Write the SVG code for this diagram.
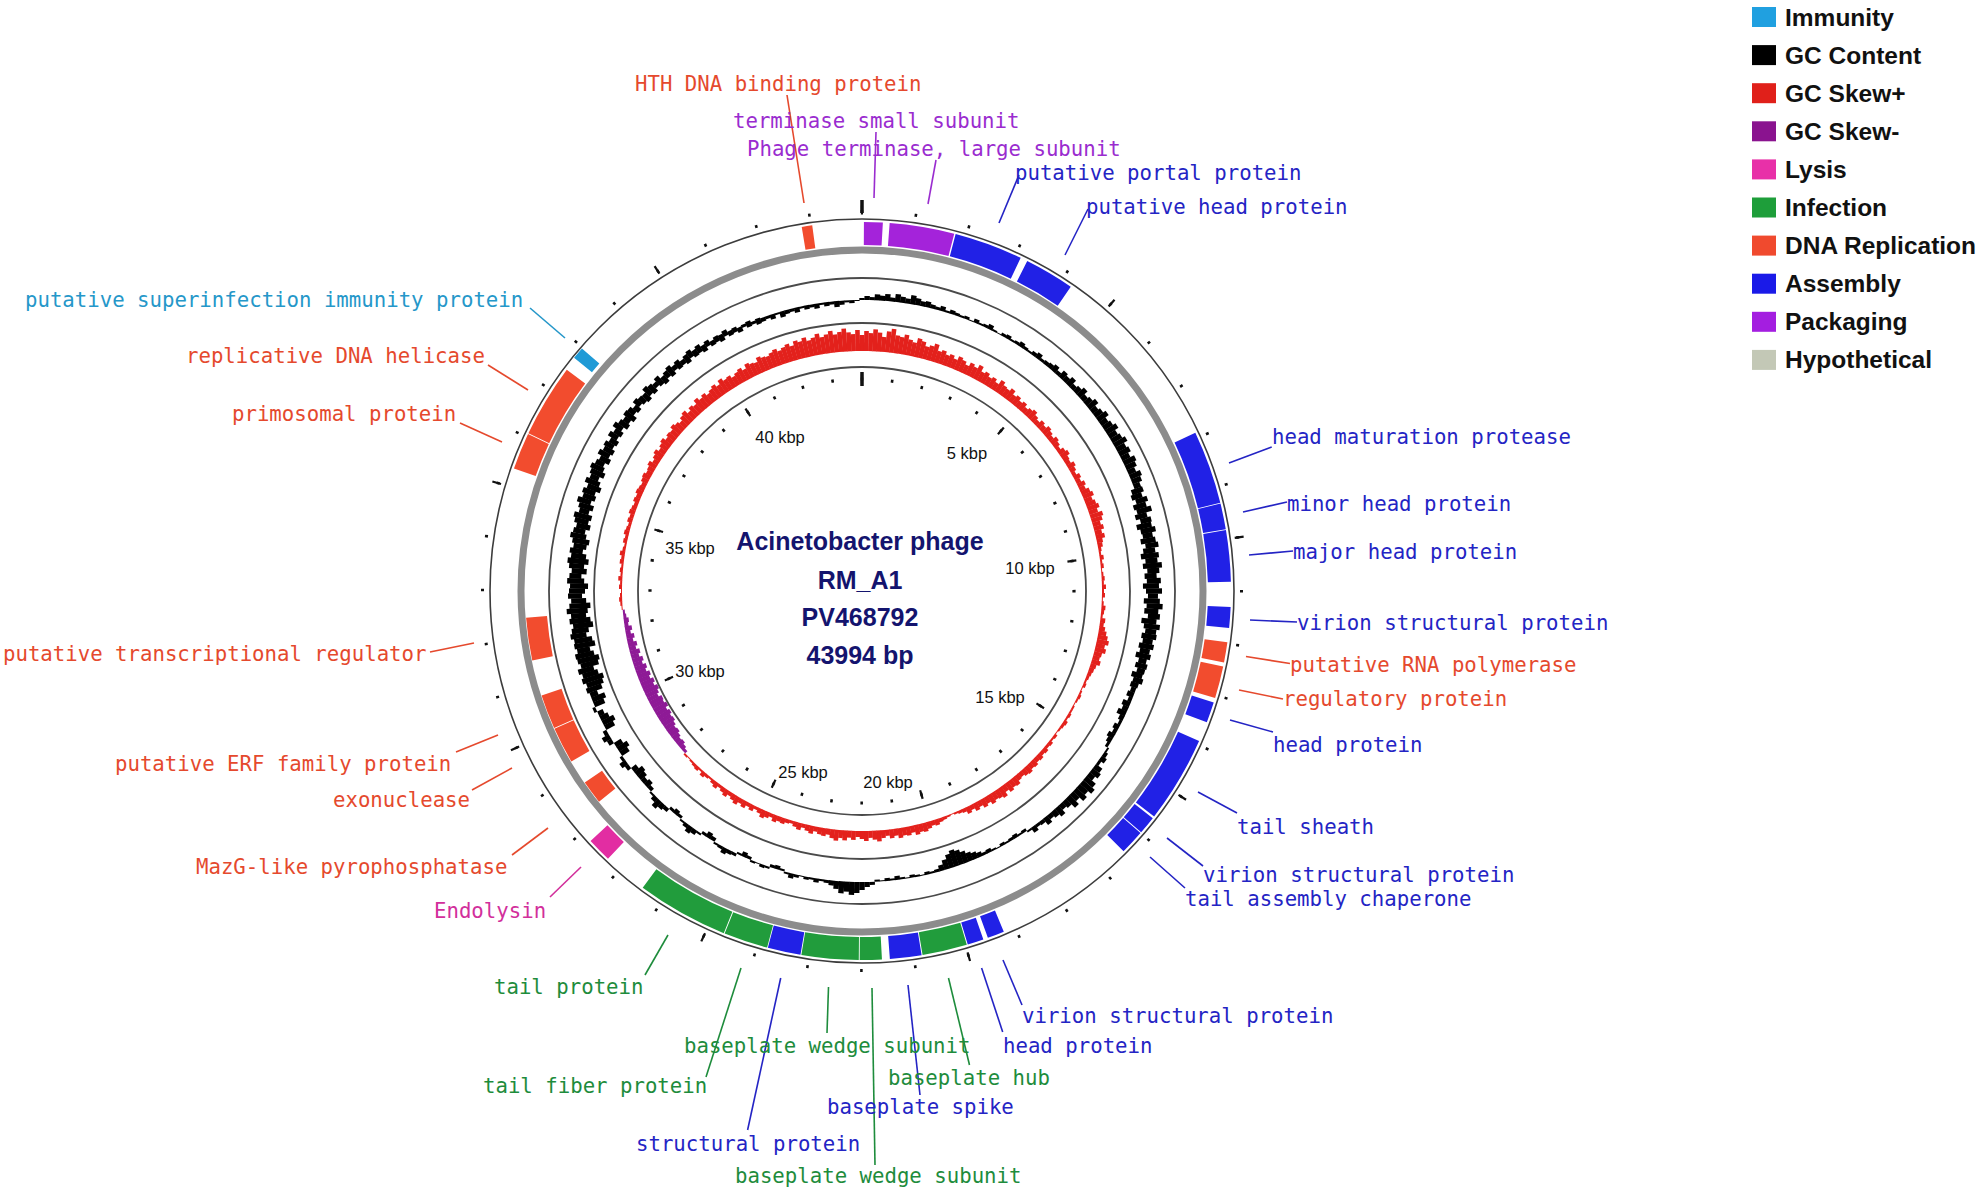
<svg xmlns="http://www.w3.org/2000/svg" width="1985" height="1190" viewBox="0 0 1985 1190">
<style>
.lbl{font-family:"DejaVu Sans Mono","Liberation Mono",monospace;font-size:20.7px}
.arc{fill:none;stroke-width:23}
.rev{stroke-width:21}
.rep .arc{stroke:#f24c2e}.rep text{fill:#e5492d}
.pack .arc{stroke:#a423da}.pack text{fill:#9a2ccf}
.asm .arc{stroke:#2121e6}.asm text{fill:#2424c4}
.inf .arc{stroke:#219c3c}.inf text{fill:#1e8c3c}
.lys .arc{stroke:#e22da2}.lys text{fill:#d22f9b}
.imm .arc{stroke:#1f9ad6}.imm text{fill:#2597c9}
.k-rep{stroke:#e5492d}.k-pack{stroke:#9a2ccf}.k-asm{stroke:#2424c4}.k-inf{stroke:#1e8c3c}.k-lys{stroke:#d22f9b}.k-imm{stroke:#2597c9}
.ring{fill:none;stroke:#4a4a4a;stroke-width:1.8}
.kb{font-family:"Liberation Sans",Arial,sans-serif;font-size:16.5px;fill:#111;text-anchor:middle}
.ttl{font-family:"Liberation Sans",Arial,sans-serif;font-size:25px;font-weight:bold;fill:#14146e;text-anchor:middle}
.lg{font-family:"Liberation Sans",Arial,sans-serif;font-size:24.5px;font-weight:bold;fill:#111}
</style>
<rect width="1985" height="1190" fill="#fff"/>

<g id="rings" transform="translate(862 591)">
<circle r="372" fill="none" stroke="#3c3c3c" stroke-width="1.6"/>
<circle r="341" fill="none" stroke="#8c8c8c" stroke-width="7"/>
<circle class="ring" r="313"/>
<circle class="ring" r="268"/>
<circle class="ring" r="224"/>
</g>

<g id="gc-content" transform="translate(862 591)" stroke="#000" stroke-width="5.4">
<path d="M0-291V-293"/><path d="M0-291V-295" transform="rotate(1)"/><path d="M0-291V-294" transform="rotate(2)"/><path d="M0-291V-297" transform="rotate(3)"/><path d="M0-291V-296" transform="rotate(4)"/><path d="M0-291V-298" transform="rotate(5)"/><path d="M0-291V-295" transform="rotate(6)"/><path d="M0-291V-299" transform="rotate(7)"/><path d="M0-291V-297" transform="rotate(8)"/><path d="M0-291V-296" transform="rotate(9)"/>
<path d="M0-291V-300" transform="rotate(10)"/><path d="M0-291V-298" transform="rotate(11)"/><path d="M0-291V-296" transform="rotate(12)"/><path d="M0-291V-297" transform="rotate(13)"/><path d="M0-291V-295" transform="rotate(14)"/><path d="M0-291V-294" transform="rotate(15)"/><path d="M0-291V-296" transform="rotate(16)"/><path d="M0-291V-293" transform="rotate(17)"/><path d="M0-291V-295" transform="rotate(18)"/><path d="M0-291V-294" transform="rotate(19)"/>
<path d="M0-291V-293" transform="rotate(20)"/><path d="M0-291V-294" transform="rotate(21)"/><path d="M0-291V-292" transform="rotate(22)"/><path d="M0-291V-295" transform="rotate(23)"/><path d="M0-291V-293" transform="rotate(24)"/><path d="M0-291V-294" transform="rotate(25)"/><path d="M0-291V-296" transform="rotate(26)"/><path d="M0-291V-293" transform="rotate(27)"/><path d="M0-291V-292" transform="rotate(28)"/><path d="M0-291V-294" transform="rotate(29)"/>
<path d="M0-291V-295" transform="rotate(30)"/><path d="M0-291V-293" transform="rotate(31)"/><path d="M0-291V-294" transform="rotate(32)"/><path d="M0-291V-296" transform="rotate(33)"/><path d="M0-291V-294" transform="rotate(34)"/><path d="M0-291V-293" transform="rotate(35)"/><path d="M0-291V-295" transform="rotate(36)"/><path d="M0-291V-297" transform="rotate(37)"/><path d="M0-291V-294" transform="rotate(38)"/><path d="M0-291V-295" transform="rotate(39)"/>
<path d="M0-291V-296" transform="rotate(40)"/><path d="M0-291V-298" transform="rotate(41)"/><path d="M0-291V-295" transform="rotate(42)"/><path d="M0-291V-299" transform="rotate(43)"/><path d="M0-291V-297" transform="rotate(44)"/><path d="M0-291V-300" transform="rotate(45)"/><path d="M0-291V-296" transform="rotate(46)"/><path d="M0-291V-298" transform="rotate(47)"/><path d="M0-291V-301" transform="rotate(48)"/><path d="M0-291V-297" transform="rotate(49)"/>
<path d="M0-291V-299" transform="rotate(50)"/><path d="M0-291V-302" transform="rotate(51)"/><path d="M0-291V-298" transform="rotate(52)"/><path d="M0-291V-300" transform="rotate(53)"/><path d="M0-291V-303" transform="rotate(54)"/><path d="M0-291V-299" transform="rotate(55)"/><path d="M0-291V-301" transform="rotate(56)"/><path d="M0-291V-304" transform="rotate(57)"/><path d="M0-291V-300" transform="rotate(58)"/><path d="M0-291V-302" transform="rotate(59)"/>
<path d="M0-291V-305" transform="rotate(60)"/><path d="M0-291V-301" transform="rotate(61)"/><path d="M0-291V-303" transform="rotate(62)"/><path d="M0-291V-300" transform="rotate(63)"/><path d="M0-291V-304" transform="rotate(64)"/><path d="M0-291V-302" transform="rotate(65)"/><path d="M0-291V-299" transform="rotate(66)"/><path d="M0-291V-303" transform="rotate(67)"/><path d="M0-291V-301" transform="rotate(68)"/><path d="M0-291V-298" transform="rotate(69)"/>
<path d="M0-287V-299" transform="rotate(70)"/><path d="M0-285V-296" transform="rotate(71)"/><path d="M0-288V-300" transform="rotate(72)"/><path d="M0-284V-297" transform="rotate(73)"/><path d="M0-286V-301" transform="rotate(74)"/><path d="M0-283V-295" transform="rotate(75)"/><path d="M0-287V-298" transform="rotate(76)"/><path d="M0-282V-297" transform="rotate(77)"/><path d="M0-285V-300" transform="rotate(78)"/><path d="M0-286V-296" transform="rotate(79)"/>
<path d="M0-283V-298" transform="rotate(80)"/><path d="M0-287V-300" transform="rotate(81)"/><path d="M0-284V-296" transform="rotate(82)"/><path d="M0-281V-299" transform="rotate(83)"/><path d="M0-285V-297" transform="rotate(84)"/><path d="M0-282V-301" transform="rotate(85)"/><path d="M0-286V-298" transform="rotate(86)"/><path d="M0-283V-295" transform="rotate(87)"/><path d="M0-285V-299" transform="rotate(88)"/><path d="M0-281V-297" transform="rotate(89)"/>
<path d="M0-284V-300" transform="rotate(90)"/><path d="M0-286V-296" transform="rotate(91)"/><path d="M0-282V-298" transform="rotate(92)"/><path d="M0-285V-301" transform="rotate(93)"/><path d="M0-283V-297" transform="rotate(94)"/><path d="M0-287V-299" transform="rotate(95)"/><path d="M0-281V-296" transform="rotate(96)"/><path d="M0-284V-300" transform="rotate(97)"/><path d="M0-286V-297" transform="rotate(98)"/><path d="M0-283V-298" transform="rotate(99)"/>
<path d="M0-285V-295" transform="rotate(100)"/><path d="M0-282V-297" transform="rotate(101)"/><path d="M0-284V-294" transform="rotate(102)"/><path d="M0-281V-296" transform="rotate(103)"/><path d="M0-285V-293" transform="rotate(104)"/><path d="M0-283V-295" transform="rotate(105)"/><path d="M0-286V-294" transform="rotate(106)"/><path d="M0-282V-293" transform="rotate(107)"/><path d="M0-285V-295" transform="rotate(108)"/><path d="M0-284V-292" transform="rotate(109)"/>
<path d="M0-291V-286" transform="rotate(110)"/><path d="M0-291V-284" transform="rotate(111)"/><path d="M0-291V-287" transform="rotate(112)"/><path d="M0-291V-283" transform="rotate(113)"/><path d="M0-291V-285" transform="rotate(114)"/><path d="M0-291V-282" transform="rotate(115)"/><path d="M0-291V-286" transform="rotate(116)"/><path d="M0-291V-288" transform="rotate(117)"/><path d="M0-291V-285" transform="rotate(118)"/><path d="M0-291V-287" transform="rotate(119)"/>
<path d="M0-291V-284" transform="rotate(120)"/><path d="M0-291V-286" transform="rotate(121)"/><path d="M0-291V-288" transform="rotate(122)"/><path d="M0-291V-293" transform="rotate(123)"/><path d="M0-291V-295" transform="rotate(124)"/><path d="M0-291V-297" transform="rotate(125)"/><path d="M0-291V-294" transform="rotate(126)"/><path d="M0-291V-299" transform="rotate(127)"/><path d="M0-291V-301" transform="rotate(128)"/><path d="M0-291V-298" transform="rotate(129)"/>
<path d="M0-291V-303" transform="rotate(130)"/><path d="M0-291V-306" transform="rotate(131)"/><path d="M0-291V-302" transform="rotate(132)"/><path d="M0-291V-305" transform="rotate(133)"/><path d="M0-291V-300" transform="rotate(134)"/><path d="M0-291V-304" transform="rotate(135)"/><path d="M0-291V-299" transform="rotate(136)"/><path d="M0-291V-297" transform="rotate(137)"/><path d="M0-291V-301" transform="rotate(138)"/><path d="M0-291V-298" transform="rotate(139)"/>
<path d="M0-291V-296" transform="rotate(140)"/><path d="M0-291V-299" transform="rotate(141)"/><path d="M0-291V-295" transform="rotate(142)"/><path d="M0-291V-294" transform="rotate(143)"/><path d="M0-291V-297" transform="rotate(144)"/><path d="M0-291V-293" transform="rotate(145)"/><path d="M0-291V-288" transform="rotate(146)"/><path d="M0-291V-289" transform="rotate(147)"/><path d="M0-291V-287" transform="rotate(148)"/><path d="M0-291V-288" transform="rotate(149)"/>
<path d="M0-291V-289" transform="rotate(150)"/><path d="M0-291V-288" transform="rotate(151)"/><path d="M0-291V-290" transform="rotate(152)"/><path d="M0-291V-289" transform="rotate(153)"/><path d="M0-291V-287" transform="rotate(154)"/><path d="M0-291V-288" transform="rotate(155)"/><path d="M0-291V-286" transform="rotate(156)"/><path d="M0-291V-284" transform="rotate(157)"/><path d="M0-291V-282" transform="rotate(158)"/><path d="M0-291V-279" transform="rotate(159)"/>
<path d="M0-291V-276" transform="rotate(160)"/><path d="M0-291V-274" transform="rotate(161)"/><path d="M0-291V-277" transform="rotate(162)"/><path d="M0-291V-281" transform="rotate(163)"/><path d="M0-291V-285" transform="rotate(164)"/><path d="M0-291V-288" transform="rotate(165)"/><path d="M0-291V-289" transform="rotate(166)"/><path d="M0-291V-288" transform="rotate(167)"/><path d="M0-291V-290" transform="rotate(168)"/><path d="M0-291V-289" transform="rotate(169)"/>
<path d="M0-291V-288" transform="rotate(170)"/><path d="M0-291V-290" transform="rotate(171)"/><path d="M0-291V-289" transform="rotate(172)"/><path d="M0-291V-287" transform="rotate(173)"/><path d="M0-291V-289" transform="rotate(174)"/><path d="M0-291V-288" transform="rotate(175)"/><path d="M0-291V-290" transform="rotate(176)"/><path d="M0-291V-289" transform="rotate(177)"/><path d="M0-291V-294" transform="rotate(178)"/><path d="M0-291V-296" transform="rotate(179)"/>
<path d="M0-291V-299" transform="rotate(180)"/><path d="M0-291V-302" transform="rotate(181)"/><path d="M0-291V-304" transform="rotate(182)"/><path d="M0-291V-301" transform="rotate(183)"/><path d="M0-291V-303" transform="rotate(184)"/><path d="M0-291V-299" transform="rotate(185)"/><path d="M0-291V-296" transform="rotate(186)"/><path d="M0-291V-294" transform="rotate(187)"/><path d="M0-291V-293" transform="rotate(188)"/><path d="M0-291V-295" transform="rotate(189)"/>
<path d="M0-291V-293" transform="rotate(190)"/><path d="M0-291V-294" transform="rotate(191)"/><path d="M0-291V-292" transform="rotate(192)"/><path d="M0-291V-294" transform="rotate(193)"/><path d="M0-291V-296" transform="rotate(194)"/><path d="M0-291V-293" transform="rotate(195)"/><path d="M0-291V-289" transform="rotate(196)"/><path d="M0-291V-287" transform="rotate(197)"/><path d="M0-291V-288" transform="rotate(198)"/><path d="M0-291V-293" transform="rotate(199)"/>
<path d="M0-291V-294" transform="rotate(200)"/><path d="M0-291V-292" transform="rotate(201)"/><path d="M0-291V-293" transform="rotate(202)"/><path d="M0-291V-288" transform="rotate(203)"/><path d="M0-291V-286" transform="rotate(204)"/><path d="M0-291V-289" transform="rotate(205)"/><path d="M0-291V-294" transform="rotate(206)"/><path d="M0-291V-295" transform="rotate(207)"/><path d="M0-291V-297" transform="rotate(208)"/><path d="M0-291V-294" transform="rotate(209)"/>
<path d="M0-291V-293" transform="rotate(210)"/><path d="M0-291V-287" transform="rotate(211)"/><path d="M0-291V-285" transform="rotate(212)"/><path d="M0-291V-288" transform="rotate(213)"/><path d="M0-291V-293" transform="rotate(214)"/><path d="M0-291V-296" transform="rotate(215)"/><path d="M0-291V-298" transform="rotate(216)"/><path d="M0-291V-295" transform="rotate(217)"/><path d="M0-291V-293" transform="rotate(218)"/><path d="M0-291V-288" transform="rotate(219)"/>
<path d="M0-291V-286" transform="rotate(220)"/><path d="M0-291V-288" transform="rotate(221)"/><path d="M0-291V-295" transform="rotate(222)"/><path d="M0-291V-297" transform="rotate(223)"/><path d="M0-291V-300" transform="rotate(224)"/><path d="M0-291V-296" transform="rotate(225)"/><path d="M0-291V-293" transform="rotate(226)"/><path d="M0-291V-287" transform="rotate(227)"/><path d="M0-291V-284" transform="rotate(228)"/><path d="M0-291V-286" transform="rotate(229)"/>
<path d="M0-291V-283" transform="rotate(230)"/><path d="M0-291V-281" transform="rotate(231)"/><path d="M0-291V-285" transform="rotate(232)"/><path d="M0-291V-295" transform="rotate(233)"/><path d="M0-291V-298" transform="rotate(234)"/><path d="M0-291V-294" transform="rotate(235)"/><path d="M0-291V-282" transform="rotate(236)"/><path d="M0-291V-279" transform="rotate(237)"/><path d="M0-291V-283" transform="rotate(238)"/><path d="M0-291V-296" transform="rotate(239)"/>
<path d="M0-291V-299" transform="rotate(240)"/><path d="M0-291V-295" transform="rotate(241)"/><path d="M0-291V-281" transform="rotate(242)"/><path d="M0-291V-278" transform="rotate(243)"/><path d="M0-291V-282" transform="rotate(244)"/><path d="M0-291V-285" transform="rotate(245)"/><path d="M0-291V-294" transform="rotate(246)"/><path d="M0-291V-280" transform="rotate(247)"/><path d="M0-291V-277" transform="rotate(248)"/><path d="M0-291V-283" transform="rotate(249)"/>
<path d="M0-277V-293" transform="rotate(250)"/><path d="M0-274V-291" transform="rotate(251)"/><path d="M0-272V-294" transform="rotate(252)"/><path d="M0-276V-292" transform="rotate(253)"/><path d="M0-279V-295" transform="rotate(254)"/><path d="M0-273V-291" transform="rotate(255)"/><path d="M0-271V-293" transform="rotate(256)"/><path d="M0-275V-294" transform="rotate(257)"/><path d="M0-278V-291" transform="rotate(258)"/><path d="M0-272V-293" transform="rotate(259)"/>
<path d="M0-274V-292" transform="rotate(260)"/><path d="M0-279V-295" transform="rotate(261)"/><path d="M0-276V-293" transform="rotate(262)"/><path d="M0-271V-291" transform="rotate(263)"/><path d="M0-273V-294" transform="rotate(264)"/><path d="M0-277V-292" transform="rotate(265)"/><path d="M0-275V-296" transform="rotate(266)"/><path d="M0-272V-293" transform="rotate(267)"/><path d="M0-276V-291" transform="rotate(268)"/><path d="M0-280V-294" transform="rotate(269)"/>
<path d="M0-277V-293" transform="rotate(270)"/><path d="M0-274V-292" transform="rotate(271)"/><path d="M0-278V-295" transform="rotate(272)"/><path d="M0-281V-293" transform="rotate(273)"/><path d="M0-276V-291" transform="rotate(274)"/><path d="M0-279V-294" transform="rotate(275)"/><path d="M0-275V-296" transform="rotate(276)"/><path d="M0-278V-293" transform="rotate(277)"/><path d="M0-282V-295" transform="rotate(278)"/><path d="M0-279V-292" transform="rotate(279)"/>
<path d="M0-277V-294" transform="rotate(280)"/><path d="M0-281V-297" transform="rotate(281)"/><path d="M0-283V-295" transform="rotate(282)"/><path d="M0-279V-293" transform="rotate(283)"/><path d="M0-282V-296" transform="rotate(284)"/><path d="M0-280V-298" transform="rotate(285)"/><path d="M0-284V-294" transform="rotate(286)"/><path d="M0-281V-296" transform="rotate(287)"/><path d="M0-285V-299" transform="rotate(288)"/><path d="M0-282V-295" transform="rotate(289)"/>
<path d="M0-284V-297" transform="rotate(290)"/><path d="M0-280V-294" transform="rotate(291)"/><path d="M0-283V-298" transform="rotate(292)"/><path d="M0-286V-295" transform="rotate(293)"/><path d="M0-282V-297" transform="rotate(294)"/><path d="M0-285V-299" transform="rotate(295)"/><path d="M0-287V-296" transform="rotate(296)"/><path d="M0-283V-294" transform="rotate(297)"/><path d="M0-286V-298" transform="rotate(298)"/><path d="M0-284V-295" transform="rotate(299)"/>
<path d="M0-287V-297" transform="rotate(300)"/><path d="M0-285V-294" transform="rotate(301)"/><path d="M0-288V-298" transform="rotate(302)"/><path d="M0-286V-295" transform="rotate(303)"/><path d="M0-289V-299" transform="rotate(304)"/><path d="M0-285V-296" transform="rotate(305)"/><path d="M0-287V-294" transform="rotate(306)"/><path d="M0-284V-297" transform="rotate(307)"/><path d="M0-288V-296" transform="rotate(308)"/><path d="M0-286V-293" transform="rotate(309)"/>
<path d="M0-289V-297" transform="rotate(310)"/><path d="M0-287V-295" transform="rotate(311)"/><path d="M0-285V-294" transform="rotate(312)"/><path d="M0-288V-298" transform="rotate(313)"/><path d="M0-286V-296" transform="rotate(314)"/><path d="M0-289V-294" transform="rotate(315)"/><path d="M0-287V-297" transform="rotate(316)"/><path d="M0-285V-293" transform="rotate(317)"/><path d="M0-288V-295" transform="rotate(318)"/><path d="M0-286V-297" transform="rotate(319)"/>
<path d="M0-289V-294" transform="rotate(320)"/><path d="M0-287V-296" transform="rotate(321)"/><path d="M0-288V-293" transform="rotate(322)"/><path d="M0-286V-295" transform="rotate(323)"/><path d="M0-289V-297" transform="rotate(324)"/><path d="M0-287V-294" transform="rotate(325)"/><path d="M0-288V-296" transform="rotate(326)"/><path d="M0-286V-293" transform="rotate(327)"/><path d="M0-289V-295" transform="rotate(328)"/><path d="M0-287V-292" transform="rotate(329)"/>
<path d="M0-288V-294" transform="rotate(330)"/><path d="M0-286V-293" transform="rotate(331)"/><path d="M0-289V-295" transform="rotate(332)"/><path d="M0-287V-292" transform="rotate(333)"/><path d="M0-288V-293" transform="rotate(334)"/><path d="M0-286V-291" transform="rotate(335)"/><path d="M0-289V-292" transform="rotate(336)"/><path d="M0-287V-293" transform="rotate(337)"/><path d="M0-288V-291" transform="rotate(338)"/><path d="M0-286V-292" transform="rotate(339)"/>
<path d="M0-291V-287" transform="rotate(340)"/><path d="M0-291V-288" transform="rotate(341)"/><path d="M0-291V-286" transform="rotate(342)"/><path d="M0-291V-289" transform="rotate(343)"/><path d="M0-291V-285" transform="rotate(344)"/><path d="M0-291V-287" transform="rotate(345)"/><path d="M0-291V-288" transform="rotate(346)"/><path d="M0-291V-286" transform="rotate(347)"/><path d="M0-291V-289" transform="rotate(348)"/><path d="M0-291V-287" transform="rotate(349)"/>
<path d="M0-291V-288" transform="rotate(350)"/><path d="M0-291V-286" transform="rotate(351)"/><path d="M0-291V-289" transform="rotate(352)"/><path d="M0-291V-287" transform="rotate(353)"/><path d="M0-291V-288" transform="rotate(354)"/><path d="M0-291V-285" transform="rotate(355)"/><path d="M0-291V-287" transform="rotate(356)"/><path d="M0-291V-289" transform="rotate(357)"/><path d="M0-291V-288" transform="rotate(358)"/><path d="M0-291V-290" transform="rotate(359)"/>
</g>

<g id="gc-skew" transform="translate(862 591)" stroke-width="4.6">
<g id="skew-plus" stroke="#e3211c">
<path d="M0-240V-256"/><path d="M0-240V-260" transform="rotate(1)"/><path d="M0-240V-258" transform="rotate(2)"/><path d="M0-240V-262" transform="rotate(3)"/><path d="M0-240V-259" transform="rotate(4)"/><path d="M0-240V-255" transform="rotate(5)"/><path d="M0-240V-261" transform="rotate(6)"/><path d="M0-240V-264" transform="rotate(7)"/><path d="M0-240V-258" transform="rotate(8)"/><path d="M0-240V-257" transform="rotate(9)"/>
<path d="M0-240V-260" transform="rotate(10)"/><path d="M0-240V-256" transform="rotate(11)"/><path d="M0-240V-254" transform="rotate(12)"/><path d="M0-240V-259" transform="rotate(13)"/><path d="M0-240V-257" transform="rotate(14)"/><path d="M0-240V-253" transform="rotate(15)"/><path d="M0-240V-255" transform="rotate(16)"/><path d="M0-240V-258" transform="rotate(17)"/><path d="M0-240V-252" transform="rotate(18)"/><path d="M0-240V-254" transform="rotate(19)"/>
<path d="M0-240V-251" transform="rotate(20)"/><path d="M0-240V-253" transform="rotate(21)"/><path d="M0-240V-250" transform="rotate(22)"/><path d="M0-240V-254" transform="rotate(23)"/><path d="M0-240V-252" transform="rotate(24)"/><path d="M0-240V-249" transform="rotate(25)"/><path d="M0-240V-253" transform="rotate(26)"/><path d="M0-240V-251" transform="rotate(27)"/><path d="M0-240V-255" transform="rotate(28)"/><path d="M0-240V-250" transform="rotate(29)"/>
<path d="M0-240V-252" transform="rotate(30)"/><path d="M0-240V-249" transform="rotate(31)"/><path d="M0-240V-251" transform="rotate(32)"/><path d="M0-240V-248" transform="rotate(33)"/><path d="M0-240V-253" transform="rotate(34)"/><path d="M0-240V-250" transform="rotate(35)"/><path d="M0-240V-249" transform="rotate(36)"/><path d="M0-240V-252" transform="rotate(37)"/><path d="M0-240V-248" transform="rotate(38)"/><path d="M0-240V-250" transform="rotate(39)"/>
<path d="M0-240V-247" transform="rotate(40)"/><path d="M0-240V-249" transform="rotate(41)"/><path d="M0-240V-246" transform="rotate(42)"/><path d="M0-240V-248" transform="rotate(43)"/><path d="M0-240V-250" transform="rotate(44)"/><path d="M0-240V-247" transform="rotate(45)"/><path d="M0-240V-245" transform="rotate(46)"/><path d="M0-240V-248" transform="rotate(47)"/><path d="M0-240V-246" transform="rotate(48)"/><path d="M0-240V-249" transform="rotate(49)"/>
<path d="M0-240V-247" transform="rotate(50)"/><path d="M0-240V-245" transform="rotate(51)"/><path d="M0-240V-248" transform="rotate(52)"/><path d="M0-240V-246" transform="rotate(53)"/><path d="M0-240V-244" transform="rotate(54)"/><path d="M0-240V-247" transform="rotate(55)"/><path d="M0-240V-249" transform="rotate(56)"/><path d="M0-240V-246" transform="rotate(57)"/><path d="M0-240V-245" transform="rotate(58)"/><path d="M0-240V-248" transform="rotate(59)"/>
<path d="M0-240V-246" transform="rotate(60)"/><path d="M0-240V-244" transform="rotate(61)"/><path d="M0-240V-247" transform="rotate(62)"/><path d="M0-240V-245" transform="rotate(63)"/><path d="M0-240V-248" transform="rotate(64)"/><path d="M0-240V-246" transform="rotate(65)"/><path d="M0-240V-249" transform="rotate(66)"/><path d="M0-240V-251" transform="rotate(67)"/><path d="M0-240V-248" transform="rotate(68)"/><path d="M0-240V-250" transform="rotate(69)"/>
<path d="M0-240V-252" transform="rotate(70)"/><path d="M0-240V-249" transform="rotate(71)"/><path d="M0-240V-253" transform="rotate(72)"/><path d="M0-240V-251" transform="rotate(73)"/><path d="M0-240V-248" transform="rotate(74)"/><path d="M0-240V-250" transform="rotate(75)"/><path d="M0-240V-247" transform="rotate(76)"/><path d="M0-240V-249" transform="rotate(77)"/><path d="M0-240V-246" transform="rotate(78)"/><path d="M0-240V-245" transform="rotate(79)"/>
<path d="M0-240V-243" transform="rotate(80)"/><path d="M0-240V-242" transform="rotate(81)"/><path d="M0-240V-244" transform="rotate(82)"/><path d="M0-240V-242" transform="rotate(83)"/><path d="M0-240V-243" transform="rotate(84)"/><path d="M0-240V-241" transform="rotate(85)"/><path d="M0-240V-242" transform="rotate(86)"/><path d="M0-240V-243" transform="rotate(87)"/><path d="M0-240V-242" transform="rotate(88)"/><path d="M0-240V-244" transform="rotate(89)"/>
<path d="M0-240V-242" transform="rotate(90)"/><path d="M0-240V-243" transform="rotate(91)"/><path d="M0-240V-241" transform="rotate(92)"/><path d="M0-240V-242" transform="rotate(93)"/><path d="M0-240V-244" transform="rotate(94)"/><path d="M0-240V-243" transform="rotate(95)"/><path d="M0-240V-242" transform="rotate(96)"/><path d="M0-240V-245" transform="rotate(97)"/><path d="M0-240V-244" transform="rotate(98)"/><path d="M0-240V-246" transform="rotate(99)"/>
<path d="M0-240V-248" transform="rotate(100)"/><path d="M0-240V-250" transform="rotate(101)"/><path d="M0-240V-252" transform="rotate(102)"/><path d="M0-240V-249" transform="rotate(103)"/><path d="M0-240V-251" transform="rotate(104)"/><path d="M0-240V-248" transform="rotate(105)"/><path d="M0-240V-247" transform="rotate(106)"/><path d="M0-240V-249" transform="rotate(107)"/><path d="M0-240V-246" transform="rotate(108)"/><path d="M0-240V-245" transform="rotate(109)"/>
<path d="M0-240V-244" transform="rotate(110)"/><path d="M0-240V-243" transform="rotate(111)"/><path d="M0-240V-242" transform="rotate(112)"/><path d="M0-240V-243" transform="rotate(113)"/><path d="M0-240V-241" transform="rotate(114)"/><path d="M0-240V-242" transform="rotate(115)"/><path d="M0-240V-243" transform="rotate(116)"/><path d="M0-240V-242" transform="rotate(117)"/><path d="M0-240V-241" transform="rotate(118)"/><path d="M0-240V-242" transform="rotate(119)"/>
<path d="M0-240V-242" transform="rotate(120)"/><path d="M0-240V-243" transform="rotate(121)"/><path d="M0-240V-242" transform="rotate(122)"/><path d="M0-240V-244" transform="rotate(123)"/><path d="M0-240V-243" transform="rotate(124)"/><path d="M0-240V-242" transform="rotate(125)"/><path d="M0-240V-241" transform="rotate(126)"/><path d="M0-240V-243" transform="rotate(127)"/><path d="M0-240V-242" transform="rotate(128)"/><path d="M0-240V-244" transform="rotate(129)"/>
<path d="M0-240V-243" transform="rotate(130)"/><path d="M0-240V-245" transform="rotate(131)"/><path d="M0-240V-244" transform="rotate(132)"/><path d="M0-240V-246" transform="rotate(133)"/><path d="M0-240V-245" transform="rotate(134)"/><path d="M0-240V-247" transform="rotate(135)"/><path d="M0-240V-246" transform="rotate(136)"/><path d="M0-240V-248" transform="rotate(137)"/><path d="M0-240V-247" transform="rotate(138)"/><path d="M0-240V-245" transform="rotate(139)"/>
<path d="M0-240V-246" transform="rotate(140)"/><path d="M0-240V-249" transform="rotate(141)"/><path d="M0-240V-248" transform="rotate(142)"/><path d="M0-240V-250" transform="rotate(143)"/><path d="M0-240V-247" transform="rotate(144)"/><path d="M0-240V-251" transform="rotate(145)"/><path d="M0-240V-249" transform="rotate(146)"/><path d="M0-240V-248" transform="rotate(147)"/><path d="M0-240V-250" transform="rotate(148)"/><path d="M0-240V-247" transform="rotate(149)"/>
<path d="M0-240V-249" transform="rotate(150)"/><path d="M0-240V-246" transform="rotate(151)"/><path d="M0-240V-248" transform="rotate(152)"/><path d="M0-240V-245" transform="rotate(153)"/><path d="M0-240V-247" transform="rotate(154)"/><path d="M0-240V-244" transform="rotate(155)"/><path d="M0-240V-243" transform="rotate(156)"/><path d="M0-240V-242" transform="rotate(157)"/><path d="M0-240V-241" transform="rotate(158)"/><path d="M0-240V-242" transform="rotate(159)"/>
<path d="M0-240V-243" transform="rotate(160)"/><path d="M0-240V-244" transform="rotate(161)"/><path d="M0-240V-246" transform="rotate(162)"/><path d="M0-240V-245" transform="rotate(163)"/><path d="M0-240V-247" transform="rotate(164)"/><path d="M0-240V-249" transform="rotate(165)"/><path d="M0-240V-248" transform="rotate(166)"/><path d="M0-240V-250" transform="rotate(167)"/><path d="M0-240V-247" transform="rotate(168)"/><path d="M0-240V-249" transform="rotate(169)"/>
<path d="M0-240V-248" transform="rotate(170)"/><path d="M0-240V-250" transform="rotate(171)"/><path d="M0-240V-247" transform="rotate(172)"/><path d="M0-240V-249" transform="rotate(173)"/><path d="M0-240V-246" transform="rotate(174)"/><path d="M0-240V-248" transform="rotate(175)"/><path d="M0-240V-251" transform="rotate(176)"/><path d="M0-240V-249" transform="rotate(177)"/><path d="M0-240V-247" transform="rotate(178)"/><path d="M0-240V-250" transform="rotate(179)"/>
<path d="M0-240V-248" transform="rotate(180)"/><path d="M0-240V-246" transform="rotate(181)"/><path d="M0-240V-249" transform="rotate(182)"/><path d="M0-240V-247" transform="rotate(183)"/><path d="M0-240V-250" transform="rotate(184)"/><path d="M0-240V-248" transform="rotate(185)"/><path d="M0-240V-251" transform="rotate(186)"/><path d="M0-240V-249" transform="rotate(187)"/><path d="M0-240V-246" transform="rotate(188)"/><path d="M0-240V-248" transform="rotate(189)"/>
<path d="M0-240V-247" transform="rotate(190)"/><path d="M0-240V-245" transform="rotate(191)"/><path d="M0-240V-248" transform="rotate(192)"/><path d="M0-240V-246" transform="rotate(193)"/><path d="M0-240V-244" transform="rotate(194)"/><path d="M0-240V-247" transform="rotate(195)"/><path d="M0-240V-245" transform="rotate(196)"/><path d="M0-240V-243" transform="rotate(197)"/><path d="M0-240V-244" transform="rotate(198)"/><path d="M0-240V-246" transform="rotate(199)"/>
<path d="M0-240V-245" transform="rotate(200)"/><path d="M0-240V-247" transform="rotate(201)"/><path d="M0-240V-244" transform="rotate(202)"/><path d="M0-240V-246" transform="rotate(203)"/><path d="M0-240V-248" transform="rotate(204)"/><path d="M0-240V-245" transform="rotate(205)"/><path d="M0-240V-243" transform="rotate(206)"/><path d="M0-240V-246" transform="rotate(207)"/><path d="M0-240V-244" transform="rotate(208)"/><path d="M0-240V-247" transform="rotate(209)"/>
<path d="M0-240V-245" transform="rotate(210)"/><path d="M0-240V-248" transform="rotate(211)"/><path d="M0-240V-246" transform="rotate(212)"/><path d="M0-240V-244" transform="rotate(213)"/><path d="M0-240V-247" transform="rotate(214)"/><path d="M0-240V-245" transform="rotate(215)"/><path d="M0-240V-243" transform="rotate(216)"/><path d="M0-240V-246" transform="rotate(217)"/><path d="M0-240V-244" transform="rotate(218)"/><path d="M0-240V-242" transform="rotate(219)"/>
<path d="M0-240V-243" transform="rotate(220)"/><path d="M0-240V-245" transform="rotate(221)"/><path d="M0-240V-242" transform="rotate(222)"/><path d="M0-240V-244" transform="rotate(223)"/><path d="M0-240V-243" transform="rotate(224)"/><path d="M0-240V-242" transform="rotate(225)"/><path d="M0-240V-241" transform="rotate(226)"/><path d="M0-240V-242" transform="rotate(227)"/>
<path d="M0-240V-241" transform="rotate(266)"/><path d="M0-240V-242" transform="rotate(267)"/><path d="M0-240V-243" transform="rotate(268)"/><path d="M0-240V-242" transform="rotate(269)"/><path d="M0-240V-241" transform="rotate(270)"/><path d="M0-240V-243" transform="rotate(271)"/><path d="M0-240V-242" transform="rotate(272)"/><path d="M0-240V-244" transform="rotate(273)"/><path d="M0-240V-242" transform="rotate(274)"/><path d="M0-240V-243" transform="rotate(275)"/>
<path d="M0-240V-242" transform="rotate(276)"/><path d="M0-240V-244" transform="rotate(277)"/><path d="M0-240V-243" transform="rotate(278)"/><path d="M0-240V-245" transform="rotate(279)"/><path d="M0-240V-243" transform="rotate(280)"/><path d="M0-240V-242" transform="rotate(281)"/><path d="M0-240V-244" transform="rotate(282)"/><path d="M0-240V-243" transform="rotate(283)"/><path d="M0-240V-245" transform="rotate(284)"/><path d="M0-240V-244" transform="rotate(285)"/>
<path d="M0-240V-243" transform="rotate(286)"/><path d="M0-240V-245" transform="rotate(287)"/><path d="M0-240V-244" transform="rotate(288)"/><path d="M0-240V-246" transform="rotate(289)"/><path d="M0-240V-245" transform="rotate(290)"/><path d="M0-240V-244" transform="rotate(291)"/><path d="M0-240V-246" transform="rotate(292)"/><path d="M0-240V-245" transform="rotate(293)"/><path d="M0-240V-247" transform="rotate(294)"/><path d="M0-240V-246" transform="rotate(295)"/><path d="M0-240V-245" transform="rotate(296)"/><path d="M0-240V-247" transform="rotate(297)"/><path d="M0-240V-248" transform="rotate(298)"/><path d="M0-240V-246" transform="rotate(299)"/>
<path d="M0-240V-247" transform="rotate(300)"/><path d="M0-240V-249" transform="rotate(301)"/><path d="M0-240V-246" transform="rotate(302)"/><path d="M0-240V-248" transform="rotate(303)"/><path d="M0-240V-250" transform="rotate(304)"/><path d="M0-240V-247" transform="rotate(305)"/><path d="M0-240V-249" transform="rotate(306)"/><path d="M0-240V-251" transform="rotate(307)"/><path d="M0-240V-248" transform="rotate(308)"/><path d="M0-240V-250" transform="rotate(309)"/>
<path d="M0-240V-249" transform="rotate(310)"/><path d="M0-240V-252" transform="rotate(311)"/><path d="M0-240V-250" transform="rotate(312)"/><path d="M0-240V-248" transform="rotate(313)"/><path d="M0-240V-251" transform="rotate(314)"/><path d="M0-240V-253" transform="rotate(315)"/><path d="M0-240V-249" transform="rotate(316)"/><path d="M0-240V-252" transform="rotate(317)"/><path d="M0-240V-250" transform="rotate(318)"/><path d="M0-240V-254" transform="rotate(319)"/>
<path d="M0-240V-251" transform="rotate(320)"/><path d="M0-240V-253" transform="rotate(321)"/><path d="M0-240V-250" transform="rotate(322)"/><path d="M0-240V-252" transform="rotate(323)"/><path d="M0-240V-254" transform="rotate(324)"/><path d="M0-240V-251" transform="rotate(325)"/><path d="M0-240V-255" transform="rotate(326)"/><path d="M0-240V-252" transform="rotate(327)"/><path d="M0-240V-253" transform="rotate(328)"/><path d="M0-240V-250" transform="rotate(329)"/>
<path d="M0-240V-252" transform="rotate(330)"/><path d="M0-240V-254" transform="rotate(331)"/><path d="M0-240V-251" transform="rotate(332)"/><path d="M0-240V-255" transform="rotate(333)"/><path d="M0-240V-253" transform="rotate(334)"/><path d="M0-240V-252" transform="rotate(335)"/><path d="M0-240V-256" transform="rotate(336)"/><path d="M0-240V-254" transform="rotate(337)"/><path d="M0-240V-253" transform="rotate(338)"/><path d="M0-240V-255" transform="rotate(339)"/>
<path d="M0-240V-257" transform="rotate(340)"/><path d="M0-240V-254" transform="rotate(341)"/><path d="M0-240V-256" transform="rotate(342)"/><path d="M0-240V-258" transform="rotate(343)"/><path d="M0-240V-255" transform="rotate(344)"/><path d="M0-240V-259" transform="rotate(345)"/><path d="M0-240V-257" transform="rotate(346)"/><path d="M0-240V-260" transform="rotate(347)"/><path d="M0-240V-256" transform="rotate(348)"/><path d="M0-240V-258" transform="rotate(349)"/>
<path d="M0-240V-261" transform="rotate(350)"/><path d="M0-240V-257" transform="rotate(351)"/><path d="M0-240V-259" transform="rotate(352)"/><path d="M0-240V-262" transform="rotate(353)"/><path d="M0-240V-258" transform="rotate(354)"/><path d="M0-240V-260" transform="rotate(355)"/><path d="M0-240V-263" transform="rotate(356)"/><path d="M0-240V-259" transform="rotate(357)"/><path d="M0-240V-257" transform="rotate(358)"/><path d="M0-240V-261" transform="rotate(359)"/>
</g>
<g id="skew-minus" stroke="#8e1a96">
<path d="M0-240V-237" transform="rotate(228)"/><path d="M0-240V-235" transform="rotate(229)"/><path d="M0-240V-233" transform="rotate(230)"/><path d="M0-240V-234" transform="rotate(231)"/><path d="M0-240V-232" transform="rotate(232)"/><path d="M0-240V-230" transform="rotate(233)"/><path d="M0-240V-231" transform="rotate(234)"/><path d="M0-240V-229" transform="rotate(235)"/><path d="M0-240V-227" transform="rotate(236)"/><path d="M0-240V-228" transform="rotate(237)"/>
<path d="M0-240V-226" transform="rotate(238)"/><path d="M0-240V-228" transform="rotate(239)"/><path d="M0-240V-225" transform="rotate(240)"/><path d="M0-240V-227" transform="rotate(241)"/><path d="M0-240V-226" transform="rotate(242)"/><path d="M0-240V-229" transform="rotate(243)"/><path d="M0-240V-227" transform="rotate(244)"/><path d="M0-240V-225" transform="rotate(245)"/><path d="M0-240V-228" transform="rotate(246)"/><path d="M0-240V-226" transform="rotate(247)"/>
<path d="M0-240V-229" transform="rotate(248)"/><path d="M0-240V-227" transform="rotate(249)"/><path d="M0-240V-230" transform="rotate(250)"/><path d="M0-240V-228" transform="rotate(251)"/><path d="M0-240V-231" transform="rotate(252)"/><path d="M0-240V-229" transform="rotate(253)"/><path d="M0-240V-232" transform="rotate(254)"/><path d="M0-240V-230" transform="rotate(255)"/><path d="M0-240V-233" transform="rotate(256)"/><path d="M0-240V-231" transform="rotate(257)"/>
<path d="M0-240V-234" transform="rotate(258)"/><path d="M0-240V-232" transform="rotate(259)"/><path d="M0-240V-235" transform="rotate(260)"/><path d="M0-240V-233" transform="rotate(261)"/><path d="M0-240V-236" transform="rotate(262)"/><path d="M0-240V-235" transform="rotate(263)"/><path d="M0-240V-237" transform="rotate(264)"/><path d="M0-240V-238" transform="rotate(265)"/>
</g>
</g>

<g id="ticks" transform="translate(862 591)" fill="none" stroke="#111">
<circle r="212" stroke-width="3.2" stroke-dasharray="2.6 27.677" transform="rotate(-90.35)"/>
<circle r="212" stroke-width="9" stroke-dasharray="2.2 149.185" transform="rotate(-90.3)"/>
<path d="M0-205V-219" stroke-width="3.5"/>
<circle r="379.5" stroke-width="3" stroke-dasharray="2.6 51.6" transform="rotate(-90.2)"/>
<circle r="381" stroke-width="9" stroke-dasharray="2.2 269.87" transform="rotate(-90.17)"/>
<path d="M0-378V-391" stroke-width="3.5"/>
</g>

<g id="scale-labels">
<text class="kb" x="967" y="459">5 kbp</text>
<text class="kb" x="1030" y="574">10 kbp</text>
<text class="kb" x="1000" y="703">15 kbp</text>
<text class="kb" x="888" y="788">20 kbp</text>
<text class="kb" x="803" y="778">25 kbp</text>
<text class="kb" x="700" y="677">30 kbp</text>
<text class="kb" x="690" y="554">35 kbp</text>
<text class="kb" x="780" y="443">40 kbp</text>
</g>

<g id="title">
<text class="ttl" x="860" y="550">Acinetobacter phage</text>
<text class="ttl" x="860" y="589">RM_A1</text>
<text class="ttl" x="860" y="626">PV468792</text>
<text class="ttl" x="860" y="664">43994 bp</text>
</g>

<g id="connectors" fill="none" stroke-width="1.6">
<path class="k-rep" d="M787 95L804 203"/>
<path class="k-pack" d="M876 132L874 198"/>
<path class="k-pack" d="M936 160L928 204"/>
<path class="k-asm" d="M1019 175L999 223"/>
<path class="k-asm" d="M1088 209L1065 255"/>
<path class="k-imm" d="M530 308L565 338"/>
<path class="k-rep" d="M488 365L528 390"/>
<path class="k-rep" d="M460 423L502 442"/>
<path class="k-rep" d="M430 652L474 643"/>
<path class="k-rep" d="M456 752L498 735"/>
<path class="k-rep" d="M472 790L512 768"/>
<path class="k-rep" d="M512 855L548 828"/>
<path class="k-lys" d="M550 897L581 867"/>
<path class="k-inf" d="M645 975L668 935"/>
<path class="k-inf" d="M706 1077L741 968"/>
<path class="k-inf" d="M827 1033L828.5 987"/>
<path class="k-asm" d="M747.6 1130L780.7 978"/>
<path class="k-inf" d="M875 1165L872 988"/>
<path class="k-asm" d="M920 1095L908 985"/>
<path class="k-inf" d="M969.5 1065L948.5 978"/>
<path class="k-asm" d="M1002.7 1032L981.6 968"/>
<path class="k-asm" d="M1022 1005L1003 960"/>
<path class="k-asm" d="M1271.7 447L1229 463"/>
<path class="k-asm" d="M1287 502L1243 512"/>
<path class="k-asm" d="M1293 551L1249 555"/>
<path class="k-asm" d="M1297 622L1250 620"/>
<path class="k-rep" d="M1290 663.5L1246 656.5"/>
<path class="k-rep" d="M1283 699L1239 690"/>
<path class="k-asm" d="M1273 732L1230 720"/>
<path class="k-asm" d="M1237 813L1198 792"/>
<path class="k-asm" d="M1203 866L1167 838"/>
<path class="k-asm" d="M1185 888L1150 857"/>
</g>

<g id="genes" class="lbl">
<g id="g-hth" class="rep"><circle class="arc" r="357.5" stroke-dasharray="10.4 3000" transform="translate(862 591) rotate(260.6)"/><text x="635" y="91">HTH DNA binding protein</text></g>
<g id="g-term-small" class="pack"><circle class="arc" r="357.5" stroke-dasharray="18.5 3000" transform="translate(862 591) rotate(-89.7)"/><text x="733" y="128">terminase small subunit</text></g>
<g id="g-term-large" class="pack"><circle class="arc" r="357.5" stroke-dasharray="63.5 3000" transform="translate(862 591) rotate(-85.7)"/><text x="747" y="156">Phage terminase, large subunit</text></g>
<g id="g-portal" class="asm"><circle class="arc" r="357.5" stroke-dasharray="67.2 3000" transform="translate(862 591) rotate(-75.3)"/><text x="1015" y="180">putative portal protein</text></g>
<g id="g-head1" class="asm"><circle class="arc" r="357.5" stroke-dasharray="49.1 3000" transform="translate(862 591) rotate(-63.4)"/><text x="1086" y="214">putative head protein</text></g>
<g id="g-hmp" class="asm"><circle class="arc" r="357.5" stroke-dasharray="72.2 3000" transform="translate(862 591) rotate(-25.4)"/><text x="1272" y="444">head maturation protease</text></g>
<g id="g-minor" class="asm"><circle class="arc" r="357.5" stroke-dasharray="25.4 3000" transform="translate(862 591) rotate(-13.7)"/><text x="1287" y="511">minor head protein</text></g>
<g id="g-major" class="asm"><circle class="arc" r="357.5" stroke-dasharray="50.4 3000" transform="translate(862 591) rotate(-9.5)"/><text x="1293" y="559">major head protein</text></g>
<g id="g-vsp1" class="asm"><circle class="arc" r="357.5" stroke-dasharray="20.4 3000" transform="translate(862 591) rotate(2.5)"/><text x="1297" y="630">virion structural protein</text></g>
<g id="g-rnap" class="rep"><circle class="arc" r="357.5" stroke-dasharray="19.8 3000" transform="translate(862 591) rotate(8)"/><text x="1290" y="672">putative RNA polymerase</text></g>
<g id="g-reg" class="rep"><circle class="arc" r="357.5" stroke-dasharray="31.6 3000" transform="translate(862 591) rotate(11.8)"/><text x="1283" y="706">regulatory protein</text></g>
<g id="g-head2" class="asm"><circle class="arc" r="357.5" stroke-dasharray="20.4 3000" transform="translate(862 591) rotate(17.6)"/><text x="1273" y="752">head protein</text></g>
<g id="g-sheath" class="asm"><circle class="arc" r="357.5" stroke-dasharray="85.3 3000" transform="translate(862 591) rotate(24)"/><text x="1237" y="834">tail sheath</text></g>
<g id="g-vsp2" class="asm"><circle class="arc" r="357.5" stroke-dasharray="17.9 3000" transform="translate(862 591) rotate(38)"/><text x="1203" y="882">virion structural protein</text></g>
<g id="g-chap" class="asm"><circle class="arc" r="357.5" stroke-dasharray="24.2 3000" transform="translate(862 591) rotate(41)"/><text x="1185" y="906">tail assembly chaperone</text></g>
<g id="g-vsp3" class="asm"><circle class="arc" r="357.5" stroke-dasharray="16.7 3000" transform="translate(862 591) rotate(67.4)"/><text x="1022" y="1023">virion structural protein</text></g>
<g id="g-head3" class="asm"><circle class="arc" r="357.5" stroke-dasharray="16 3000" transform="translate(862 591) rotate(70.8)"/><text x="1003" y="1053">head protein</text></g>
<g id="g-hub" class="inf"><circle class="arc" r="357.5" stroke-dasharray="44.1 3000" transform="translate(862 591) rotate(73.5)"/><text x="888" y="1085">baseplate hub</text></g>
<g id="g-spike" class="asm"><circle class="arc" r="357.5" stroke-dasharray="31 3000" transform="translate(862 591) rotate(80.7)"/><text x="827" y="1114">baseplate spike</text></g>
<g id="g-wedge2" class="inf"><circle class="arc" r="357.5" stroke-dasharray="21.7 3000" transform="translate(862 591) rotate(86.9)"/><text x="735" y="1183">baseplate wedge subunit</text></g>
<g id="g-wedge1" class="inf"><circle class="arc" r="357.5" stroke-dasharray="56 3000" transform="translate(862 591) rotate(90.5)"/><text x="684" y="1053">baseplate wedge subunit</text></g>
<g id="g-struct" class="asm"><circle class="arc" r="357.5" stroke-dasharray="32.3 3000" transform="translate(862 591) rotate(99.6)"/><text x="636" y="1151">structural protein</text></g>
<g id="g-fiber" class="inf"><circle class="arc" r="357.5" stroke-dasharray="43.5 3000" transform="translate(862 591) rotate(104.9)"/><text x="483" y="1093">tail fiber protein</text></g>
<g id="g-tail" class="inf"><circle class="arc" r="357.5" stroke-dasharray="90.3 3000" transform="translate(862 591) rotate(112)"/><text x="494" y="994">tail protein</text></g>
<g id="g-endolysin" class="lys"><circle class="arc" r="357.5" stroke-dasharray="24.2 3000" transform="translate(862 591) rotate(133.5)"/><text x="434" y="918">Endolysin</text></g>
<g id="g-mazg" class="rep"><circle class="arc rev" r="326.5" stroke-dasharray="23.2 3000" transform="translate(862 591) rotate(141.3)"/><text x="196" y="874">MazG-like pyrophosphatase</text></g>
<g id="g-exo" class="rep"><circle class="arc rev" r="326.5" stroke-dasharray="35.7 3000" transform="translate(862 591) rotate(149.6)"/><text x="333" y="807">exonuclease</text></g>
<g id="g-erf" class="rep"><circle class="arc rev" r="326.5" stroke-dasharray="34 3000" transform="translate(862 591) rotate(156)"/><text x="115" y="771">putative ERF family protein</text></g>
<g id="g-treg" class="rep"><circle class="arc rev" r="326.5" stroke-dasharray="42 3000" transform="translate(862 591) rotate(168.1)"/><text x="3" y="661">putative transcriptional regulator</text></g>
<g id="g-primo" class="rep"><circle class="arc" r="357.5" stroke-dasharray="36 3000" transform="translate(862 591) rotate(199.4)"/><text x="232" y="421">primosomal protein</text></g>
<g id="g-helicase" class="rep"><circle class="arc" r="357.5" stroke-dasharray="72.2 3000" transform="translate(862 591) rotate(205.3)"/><text x="186" y="363">replicative DNA helicase</text></g>
<g id="g-immunity" class="imm"><circle class="arc" r="359" stroke-width="11" stroke-dasharray="12 3000" transform="translate(862 591) rotate(219)"/><text x="25" y="307">putative superinfection immunity protein</text></g>
</g>

<g id="legend">
<rect x="1752" y="7" width="24" height="20" fill="#20a0e0"/><text class="lg" x="1785" y="25.5">Immunity</text>
<rect x="1752" y="45.1" width="24" height="20" fill="#000"/><text class="lg" x="1785" y="63.6" font-weight="normal">GC Content</text>
<rect x="1752" y="83.2" width="24" height="20" fill="#e0201a"/><text class="lg" x="1785" y="101.7">GC Skew+</text>
<rect x="1752" y="121.3" width="24" height="20" fill="#8a138f"/><text class="lg" x="1785" y="139.8">GC Skew-</text>
<rect x="1752" y="159.4" width="24" height="20" fill="#e830a8"/><text class="lg" x="1785" y="177.9">Lysis</text>
<rect x="1752" y="197.5" width="24" height="20" fill="#1e9e3a"/><text class="lg" x="1785" y="216">Infection</text>
<rect x="1752" y="235.6" width="24" height="20" fill="#f04a2e"/><text class="lg" x="1785" y="254.1">DNA Replication</text>
<rect x="1752" y="273.7" width="24" height="20" fill="#1a1ae8"/><text class="lg" x="1785" y="292.2">Assembly</text>
<rect x="1752" y="311.8" width="24" height="20" fill="#a41ee0"/><text class="lg" x="1785" y="330.3">Packaging</text>
<rect x="1752" y="349.9" width="24" height="20" fill="#c3c8b6"/><text class="lg" x="1785" y="368.4">Hypothetical</text>
</g>
</svg>
